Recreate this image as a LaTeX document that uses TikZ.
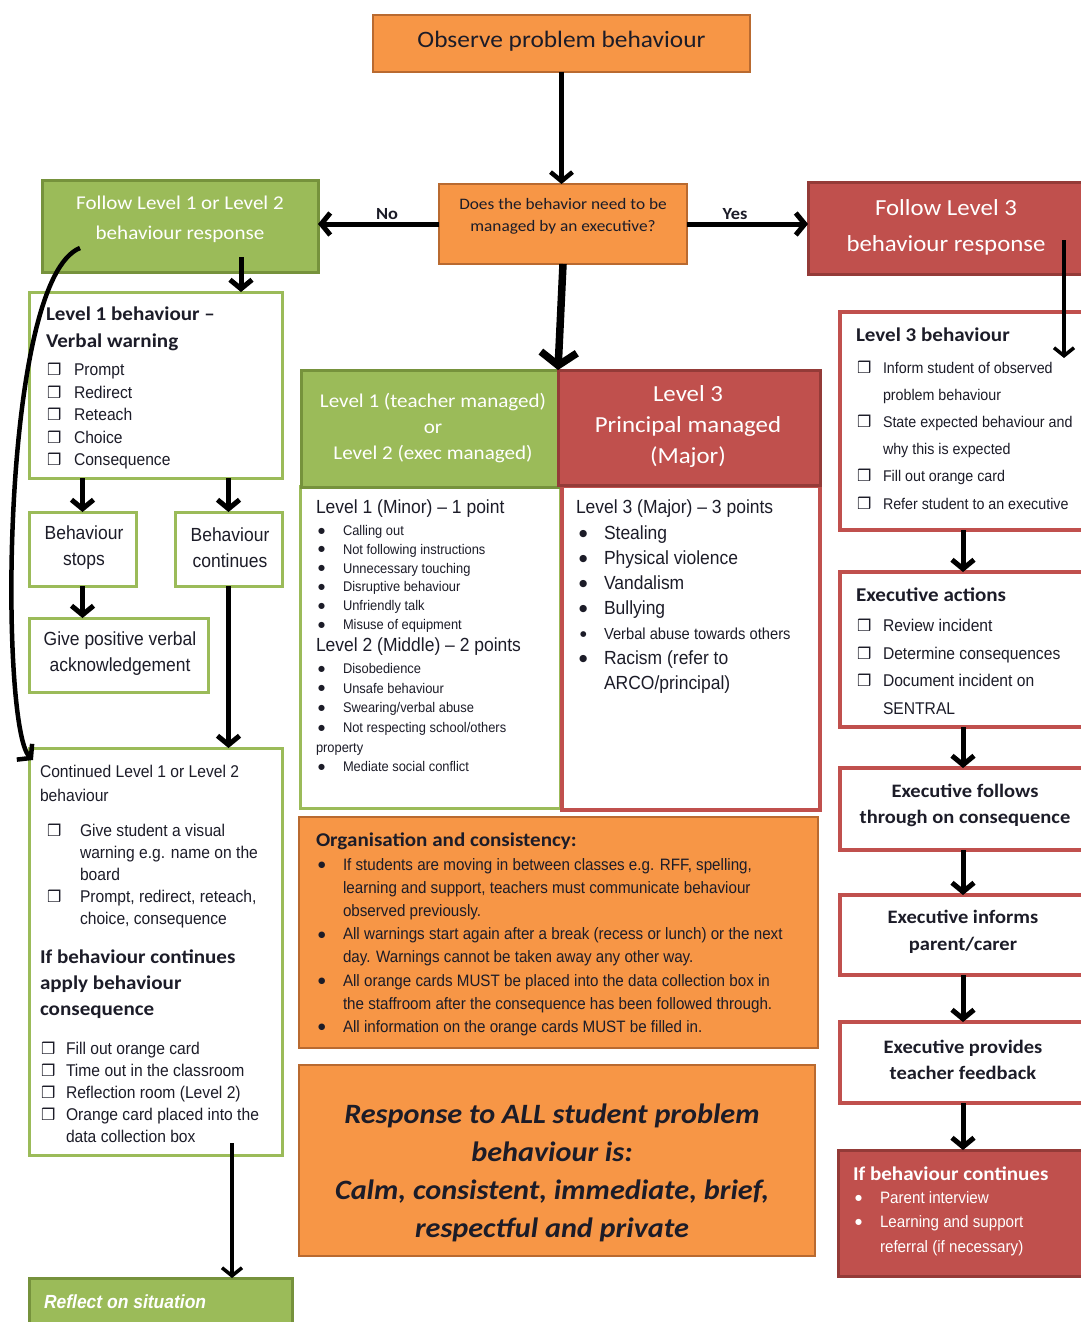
\documentclass[tikz,border=0pt]{standalone}
\usepackage{fontspec}
\setmainfont[FakeStretch=1.08]{Carlito}
\newfontfamily\afont[FakeStretch=0.92]{Liberation Sans}
\newfontfamily\ckfont{DejaVu Sans}
\usetikzlibrary{arrows.meta,fit}
\definecolor{ofill}{HTML}{F79646}
\definecolor{oline}{HTML}{B96A30}
\definecolor{gfill}{HTML}{9BBB59}
\definecolor{gline}{HTML}{76923C}
\definecolor{rfill}{HTML}{C0504D}
\definecolor{rline}{HTML}{943B38}
\definecolor{ink}{HTML}{1C1C28}
\newcommand\ckb[1]{\makebox[#1][l]{\ckfont\fontsize{16}{16}\selectfont ❒}}
\newcommand\bul[3]{\hspace*{#1}\makebox[#2][l]{\raisebox{0.17em}{\ckfont\fontsize{#3}{#3}\selectfont ●}}}
\begin{document}
\begin{tikzpicture}[x=1pt,y=-1pt,
  every node/.style={inner sep=0pt, outer sep=0pt},
  obox/.style={rectangle, draw=oline, fill=ofill, line width=2.5pt, inner sep=0pt},
  gbox/.style={rectangle, draw=gline, fill=gfill, line width=3pt, inner sep=0pt},
  rbox/.style={rectangle, draw=rline, fill=rfill, line width=3pt, inner sep=0pt},
  gwbox/.style={rectangle, draw=gfill, fill=white, line width=3pt, inner sep=0pt},
  rwbox/.style={rectangle, draw=rfill, fill=white, line width=3.5pt, inner sep=0pt},
  txt/.style={inner sep=0pt, align=left, anchor=north west, text=ink},
  btxt/.style={inner sep=0pt, anchor=base west, text=ink},
  ctxt/.style={inner sep=0pt, align=center, text=ink},
  arrA/.style={line width=5pt, -{Straight Barb[length=9pt,width=22pt]}},
  arrB/.style={line width=7.5pt, -{Straight Barb[length=13pt,width=36pt]}},
  arrC/.style={line width=3.5pt, -{Straight Barb[length=8pt,width=20pt]}},
  arrD/.style={line width=4.5pt, -{Straight Barb[length=9pt,width=22pt]}}
]
\useasboundingbox (0,0) rectangle (1080,1322);
\fill[white] (0,0) rectangle (1080,1322);

% ---------- top ----------
\node[obox, fit={(373,15)(750,72)}] (obs) {};
\node[ctxt, font=\fontsize{23.5}{28}\selectfont] (obst) at (561.5,41) {Observe problem behaviour};

\node[obox, fit={(439,184)(687,264)}] (dec) {};
\node[ctxt, font=\fontsize{16}{22}\selectfont] (dect) at (563,216) {Does the behavior need to be\\managed by an executive?};

\node[text=ink, font=\bfseries\fontsize{17}{20}\selectfont] (no) at (387,214) {No};
\node[text=ink, font=\bfseries\fontsize{17}{20}\selectfont] (yes) at (735,214) {Yes};

\node[gbox, fit={(42,180)(318,272)}] (fol12) {};
\node[ctxt, text=white, font=\fontsize{19.5}{30}\selectfont] (fol12t) at (180,219) {Follow Level 1 or Level 2\\behaviour response};

\node[rbox, fit={(808,182)(1088,274)}] (fol3) {};
\node[ctxt, text=white, font=\fontsize{23}{36}\selectfont] (fol3t) at (946,227) {Follow Level 3\\behaviour response};

% ---------- centre ----------
\node[gwbox, fit={(300,486)(560,808)}] (l12b) {};
\node[rwbox, fit={(562,486)(820,810)}] (l3mb) {};
\node[gbox, fit={(301,370)(558,487)}] (hdrg) {};
\node[rbox, fit={(558,370)(820,485)}] (hdrr) {};
\node[ctxt, text=white, font=\fontsize{19.5}{26}\selectfont] (hdrgt) at (433,428) {Level 1 (teacher managed)\\or\\Level 2 (exec managed)};
\node[ctxt, text=white, font=\fontsize{23}{31}\selectfont] (hdrrt) at (688,426) {Level 3\\Principal managed\\(Major)};

\node[btxt, font=\afont\fontsize{19}{24}\selectfont] (l1mh) at (316,513.5) {Level 1 (Minor) – 1 point};
\node[txt, font=\afont\fontsize{14}{18.8}\selectfont] (l1ml) at (316,522.3) {\strut\bul{2pt}{25pt}{8}Calling out\\\bul{2pt}{25pt}{8}Not following instructions\\\bul{2pt}{25pt}{8}Unnecessary touching\\\bul{2pt}{25pt}{8}Disruptive behaviour\\\bul{2pt}{25pt}{8}Unfriendly talk\\\bul{2pt}{25pt}{8}Misuse of equipment};
\node[btxt, font=\afont\fontsize{19}{24}\selectfont] (l2mh) at (316,651.5) {Level 2 (Middle) – 2 points};
\node[txt, font=\afont\fontsize{14}{19.6}\selectfont] (l2ml) at (316,659.9) {\strut\bul{2pt}{25pt}{8}Disobedience\\\bul{2pt}{25pt}{8}Unsafe behaviour\\\bul{2pt}{25pt}{8}Swearing/verbal abuse\\\bul{2pt}{25pt}{8}Not respecting school/others\\property\\\bul{2pt}{25pt}{8}Mediate social conflict};

\node[btxt, font=\afont\fontsize{19}{24}\selectfont] (l3mh) at (576,513.5) {Level 3 (Major) – 3 points};
\node[txt, font=\afont\fontsize{19}{25}\selectfont] (l3ml) at (576,521.8) {\strut\bul{3pt}{25pt}{9.5}Stealing\\\bul{3pt}{25pt}{9.5}Physical violence\\\bul{3pt}{25pt}{9.5}Vandalism\\\bul{3pt}{25pt}{9.5}Bullying\\{\fontsize{16}{25}\selectfont\bul{4pt}{24pt}{7.5}Verbal abuse towards others}\\\bul{3pt}{25pt}{9.5}Racism (refer to\\\hspace*{28pt}ARCO/principal)};

\node[obox, fit={(299,817)(818,1048)}] (org) {};
\node[btxt, font=\bfseries\fontsize{19.5}{24}\selectfont] (orgh) at (316,846) {Organisation and consistency:};
\node[txt, font=\afont\fontsize{16.5}{23.1}\selectfont] (orgl) at (317,854.4) {\strut\bul{1pt}{25pt}{8.5}If students are moving in between classes e.g. RFF, spelling,\\\hspace*{26pt}learning and support, teachers must communicate behaviour\\\hspace*{26pt}observed previously.\\\bul{1pt}{25pt}{8.5}All warnings start again after a break (recess or lunch) or the next\\\hspace*{26pt}day. Warnings cannot be taken away any other way.\\\bul{1pt}{25pt}{8.5}All orange cards MUST be placed into the data collection box in\\\hspace*{26pt}the staffroom after the consequence has been followed through.\\\bul{1pt}{25pt}{8.5}All information on the orange cards MUST be filled in.};

\node[obox, fit={(299,1065)(815,1256)}] (resp) {};
\node[ctxt, anchor=north, font=\bfseries\itshape\fontsize{28}{38}\selectfont] (respt) at (552,1096.5) {\strut Response to ALL student problem\\behaviour is:\\Calm, consistent, immediate, brief,\\respectful and private};

% ---------- left column ----------
\node[gwbox, fit={(29,292)(282,478)}] (l1b) {};
\node[txt, font=\bfseries\fontsize{19.5}{27}\selectfont] (l1bh) at (46,301.8) {\strut Level 1 behaviour –\\Verbal warning};
\node[txt, font=\afont\fontsize{17}{22.5}\selectfont] (l1bl) at (47,359.9) {\strut\ckb{27pt}Prompt\\\ckb{27pt}Redirect\\\ckb{27pt}Reteach\\\ckb{27pt}Choice\\\ckb{27pt}Consequence};

\node[gwbox, fit={(29,512)(136,586)}] (stops) {};
\node[ctxt, font=\afont\fontsize{19}{26}\selectfont] (stopst) at (84,548) {Behaviour\\stops};
\node[gwbox, fit={(175,512)(282,586)}] (cont) {};
\node[ctxt, font=\afont\fontsize{19}{26}\selectfont] (contt) at (230,548) {Behaviour\\continues};
\node[gwbox, fit={(29,618)(208,692)}] (give) {};
\node[ctxt, font=\afont\fontsize{19}{26}\selectfont] (givet) at (120,654) {Give positive verbal\\acknowledgement};

\node[gwbox, fit={(29,748)(282,1155)}] (contd) {};
\node[txt, font=\afont\fontsize{17}{24}\selectfont] (contdh) at (40,760.8) {\strut Continued Level 1 or Level 2\\behaviour};
\node[txt, font=\afont\fontsize{17}{22}\selectfont] (contdl) at (47,821.2) {\strut\ckb{33pt}Give student a visual\\\hspace*{33pt}warning e.g. name on the\\\hspace*{33pt}board\\\ckb{33pt}Prompt, redirect, reteach,\\\hspace*{33pt}choice, consequence};
\node[txt, font=\bfseries\fontsize{19.5}{26}\selectfont] (contdb) at (40,944.8) {\strut If behaviour continues\\apply behaviour\\consequence};
\node[txt, font=\afont\fontsize{17}{22}\selectfont] (contdm) at (41,1039.2) {\strut\ckb{25pt}Fill out orange card\\\ckb{25pt}Time out in the classroom\\\ckb{25pt}Reflection room (Level 2)\\\ckb{25pt}Orange card placed into the\\\hspace*{25pt}data collection box};

\node[gbox, fit={(29,1278)(292,1335)}] (refl) {};
\node[btxt, text=white, font=\afont\bfseries\itshape\fontsize{19}{22}\selectfont] (reflt) at (44,1308) {Reflect on situation};

% ---------- right column ----------
\node[rwbox, fit={(840,312)(1086,530)}] (l3b) {};
\node[btxt, font=\bfseries\fontsize{19.5}{24}\selectfont] (l3bh) at (856,341.7) {Level 3 behaviour};
\node[txt, font=\afont\fontsize{15.5}{27.2}\selectfont] (l3bl) at (857,354) {\strut\ckb{26pt}Inform student of observed\\\hspace*{26pt}problem behaviour\\\ckb{26pt}State expected behaviour and\\\hspace*{26pt}why this is expected\\\ckb{26pt}Fill out orange card\\\ckb{26pt}Refer student to an executive};

\node[rwbox, fit={(840,572)(1086,727)}] (exa) {};
\node[btxt, font=\bfseries\fontsize{19.5}{24}\selectfont] (exah) at (856,601.7) {Executive actions};
\node[txt, font=\afont\fontsize{17}{27.5}\selectfont] (exal) at (857,612.4) {\strut\ckb{26pt}Review incident\\\ckb{26pt}Determine consequences\\\ckb{26pt}Document incident on\\\hspace*{26pt}SENTRAL};

\node[rwbox, fit={(840,768)(1086,850)}] (exf) {};
\node[ctxt, font=\bfseries\fontsize{19}{26}\selectfont] (exft) at (965,805) {Executive follows\\through on consequence};
\node[rwbox, fit={(840,895)(1086,975)}] (exi) {};
\node[ctxt, font=\bfseries\fontsize{19}{27}\selectfont] (exit) at (963,931.5) {Executive informs\\parent/carer};
\node[rwbox, fit={(840,1022)(1086,1103)}] (exp) {};
\node[ctxt, font=\bfseries\fontsize{19}{26}\selectfont] (expt) at (963,1060) {Executive provides\\teacher feedback};

\node[rbox, fit={(838,1150)(1088,1276)}] (ifc) {};
\node[btxt, text=white, font=\bfseries\fontsize{19.5}{24}\selectfont] (ifch) at (853,1180.8) {If behaviour continues};
\node[txt, text=white, font=\afont\fontsize{16.5}{24.5}\selectfont] (ifcl) at (853,1186) {\strut\bul{2pt}{25pt}{8}Parent interview\\\bul{2pt}{25pt}{8}Learning and support\\\hspace*{27pt}referral (if necessary)};

% ---------- connectors ----------
\coordinate (c1) at (241,257);
\coordinate (c2) at (232,1143);
\coordinate (c3) at (80,248);
\coordinate (c4) at (1064,240);
\coordinate (c5) at (1064,358);

\draw[arrD] (obs.south) -- (obs.south |- dec.north);
\draw[arrA] (dec.west) -- (dec.west -| fol12.east);
\draw[arrA] (dec.east) -- (dec.east -| fol3.west);
\draw[arrB] (dec.south) -- (hdrg.north east);

\draw[arrA] (c1) -- (c1 |- l1b.north);
\draw[arrA] (l1b.south -| stops.north) -- (stops.north);
\draw[arrA] (l1b.south -| cont.north) -- (cont.north);
\draw[arrA] (stops.south) -- (stops.south |- give.north);
\draw[arrA] (cont.south) -- (cont.south |- contd.north);
\draw[arrC] (c2) -- (c2 |- refl.north);
\draw[arrD] (c3) .. controls (0,280) and (0,728) .. ([shift={(4,12)}]contd.north west);

\draw[arrC] (c4) -- (c5);
\draw[arrA] (l3b.south) -- (exa.north);
\draw[arrA] (exa.south) -- (exf.north);
\draw[arrA] (exf.south) -- (exi.north);
\draw[arrA] (exi.south) -- (exp.north);
\draw[arrA] (exp.south) -- (ifc.north -| exp.south);
\end{tikzpicture}
\end{document}
